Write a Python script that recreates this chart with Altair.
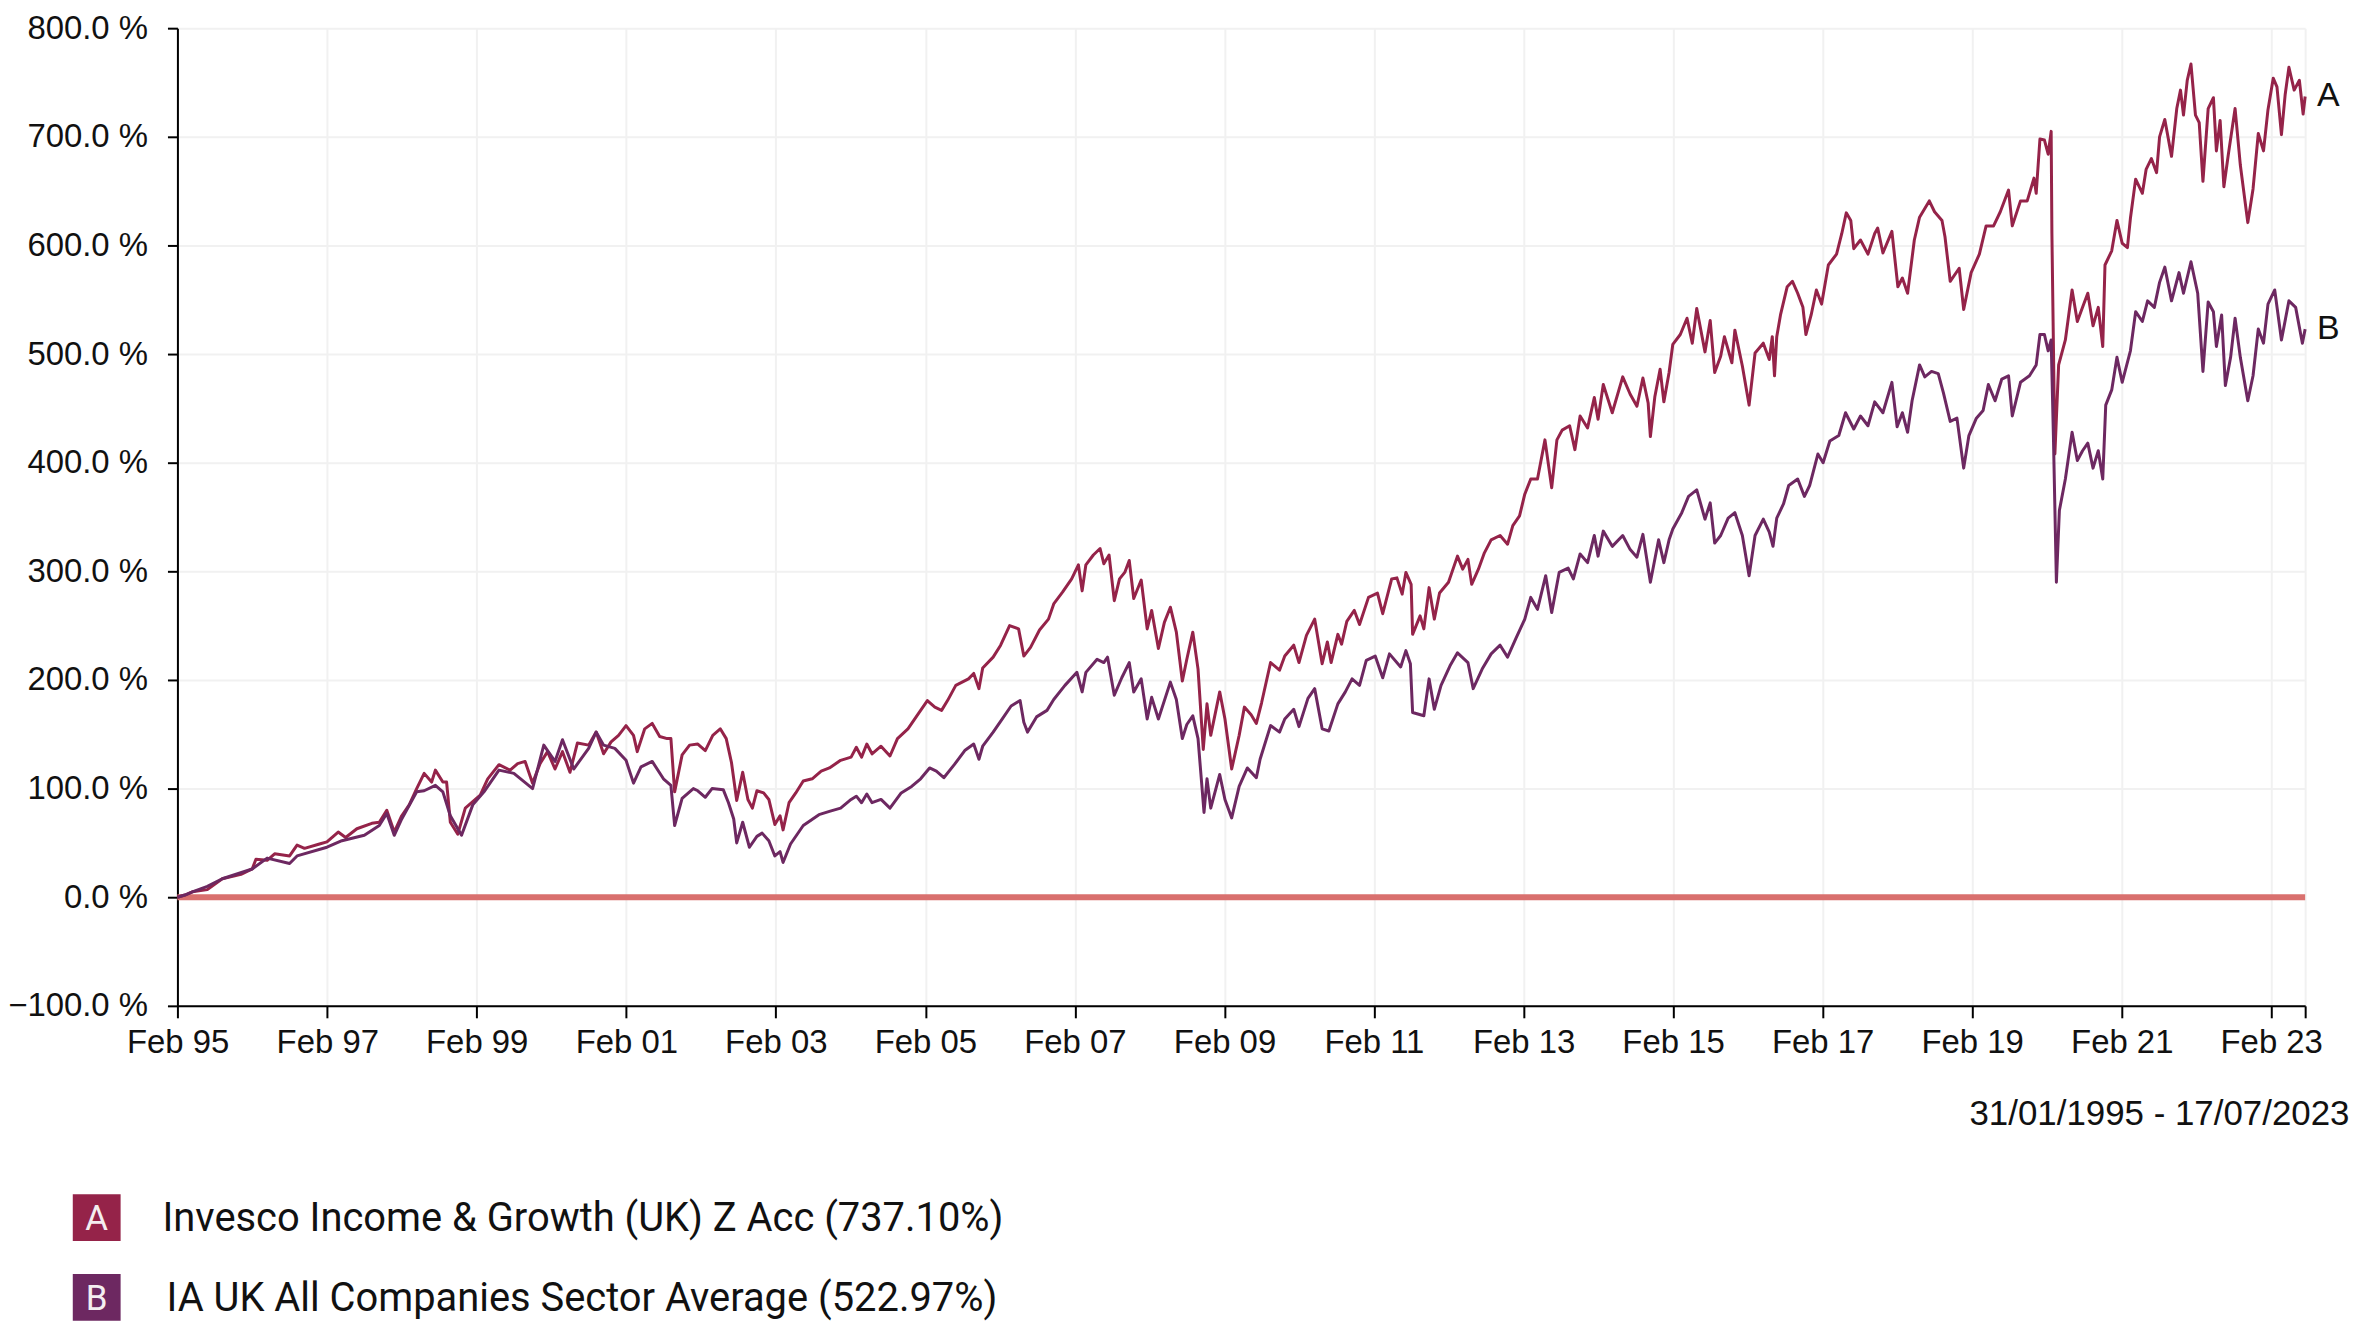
import altair as alt
import pandas as pd
import numpy as np

START = "1995-01-31"
END_T = 28.457  # years from 31/01/1995 to 17/07/2023

# Series A: Invesco Income & Growth (UK) Z Acc  (years since start, cumulative % return)
a_t = [0, 0.1, 0.2, 0.4, 0.6, 0.85, 1.0, 1.05, 1.2, 1.3, 1.5, 1.6, 1.7, 1.9, 2.0, 2.15, 2.25, 2.4, 2.6, 2.7,
       2.8, 2.9, 3.0, 3.1, 3.2, 3.3, 3.4, 3.45, 3.55, 3.6, 3.65, 3.75, 3.85, 3.95, 4.05, 4.15, 4.3, 4.45, 4.55, 4.65,
       4.75, 4.85, 4.95, 5.05, 5.15, 5.25, 5.35, 5.5, 5.6, 5.7, 5.8, 5.9, 6.0, 6.1, 6.15, 6.25, 6.35, 6.45, 6.55, 6.6,
       6.65, 6.75, 6.85, 6.96, 7.06, 7.16, 7.26, 7.34, 7.41, 7.48, 7.56, 7.63, 7.69, 7.75, 7.84, 7.91, 7.99, 8.06, 8.1, 8.18,
       8.27, 8.37, 8.49, 8.61, 8.72, 8.87, 9.01, 9.08, 9.15, 9.22, 9.29, 9.41, 9.53, 9.63, 9.77, 9.91, 10.03, 10.13, 10.22, 10.30,
       10.41, 10.58, 10.65, 10.72, 10.77, 10.91, 11.01, 11.13, 11.25, 11.32, 11.41, 11.53, 11.65, 11.72, 11.84, 11.96, 12.05, 12.1, 12.15, 12.25,
       12.34, 12.39, 12.46, 12.53, 12.6, 12.67, 12.73, 12.79, 12.89, 12.97, 13.03, 13.12, 13.2, 13.28, 13.36, 13.44, 13.5, 13.58, 13.65, 13.72,
       13.77, 13.82, 13.94, 14.01, 14.1, 14.2, 14.27, 14.36, 14.43, 14.5, 14.62, 14.74, 14.81, 14.93, 15.0, 15.1, 15.21, 15.31, 15.38, 15.43,
       15.52, 15.57, 15.64, 15.74, 15.81, 15.93, 16.05, 16.12, 16.24, 16.31, 16.38, 16.43, 16.5, 16.52, 16.62, 16.67, 16.74, 16.81, 16.88, 17.0,
       17.12, 17.19, 17.26, 17.31, 17.4, 17.48, 17.57, 17.69, 17.79, 17.86, 17.95, 18.02, 18.1, 18.19, 18.29, 18.38, 18.45, 18.52, 18.62, 18.69,
       18.76, 18.86, 18.95, 19.0, 19.07, 19.19, 19.33, 19.43, 19.52, 19.6, 19.67, 19.7, 19.76, 19.83, 19.88, 19.95, 20.0, 20.1, 20.19, 20.26,
       20.32, 20.43, 20.5, 20.56, 20.64, 20.69, 20.79, 20.83, 20.93, 21.02, 21.1, 21.21, 21.29, 21.33, 21.36, 21.39, 21.44, 21.53, 21.6, 21.67,
       21.74, 21.78, 21.85, 21.92, 21.99, 22.08, 22.19, 22.26, 22.32, 22.38, 22.42, 22.51, 22.61, 22.7, 22.74, 22.81, 22.93, 23.01, 23.07, 23.14,
       23.23, 23.3, 23.37, 23.43, 23.5, 23.6, 23.64, 23.71, 23.83, 23.89, 23.99, 24.1, 24.19, 24.29, 24.38, 24.49, 24.54, 24.65, 24.74, 24.83,
       24.86, 24.91, 24.97, 25.02, 25.06, 25.07, 25.11, 25.16, 25.25, 25.34, 25.41, 25.48, 25.55, 25.62, 25.69, 25.75, 25.78, 25.87, 25.94, 26.01,
       26.08, 26.12, 26.19, 26.28, 26.33, 26.4, 26.47, 26.51, 26.58, 26.67, 26.74, 26.79, 26.83, 26.88, 26.93, 26.99, 27.04, 27.09, 27.16, 27.23,
       27.27, 27.32, 27.37, 27.43, 27.52, 27.59, 27.69, 27.76, 27.83, 27.9, 27.96, 28.03, 28.08, 28.14, 28.19, 28.24, 28.31, 28.38, 28.43, END_T]
a_v = [0, 2, 5, 7, 17, 21, 26, 35, 34, 40, 38, 48, 45, 49, 51, 60, 55, 63, 68, 69,
       80, 60, 75, 85, 100, 114, 106, 117, 106, 106, 69, 58, 82, 88, 94, 109, 122, 117, 123, 125,
       105, 123, 134, 118, 134, 115, 142, 140, 152, 132, 143, 149, 158, 149, 134, 155, 160, 148, 146, 146,
       97, 131, 140, 141, 135, 149, 155, 146, 124, 89, 115, 90, 82, 98, 96, 90, 67, 75, 62, 87,
       96, 107, 109, 116, 119, 126, 129, 138, 129, 141, 132, 139, 130, 146, 155, 169, 181, 175, 172, 181,
       195, 201, 206, 192, 211, 221, 232, 250, 247, 222, 230, 246, 256, 270, 281, 293, 306, 282, 306, 315,
       321, 307, 315, 273, 293, 299, 310, 275, 292, 247, 264, 229, 253, 267, 244, 199, 219, 244, 210, 136,
       178, 149, 189, 164, 118, 149, 175, 168, 160, 179, 216, 209, 222, 232, 216, 241, 256, 215, 235, 216,
       242, 233, 254, 264, 251, 276, 280, 261, 293, 294, 279, 299, 288, 242, 259, 247, 285, 256, 280, 290,
       314, 302, 311, 288, 302, 317, 329, 333, 325, 342, 351, 371, 385, 385, 421, 377, 421, 430, 434, 412,
       443, 432, 460, 440, 472, 446, 479, 463, 452, 478, 455, 424, 461, 486, 456, 483, 509, 518, 533, 510,
       542, 502, 531, 483, 498, 516, 492, 522, 489, 453, 501, 510, 495, 516, 480, 516, 536, 562, 567, 556,
       543, 518, 536, 559, 546, 582, 592, 611, 630, 623, 597, 605, 592, 611, 616, 593, 613, 562, 570, 556,
       605, 626, 634, 641, 631, 623, 608, 567, 579, 541, 575, 592, 618, 618, 631, 651, 618, 641, 641, 662,
       648, 698, 697, 684, 705, 611, 408, 490, 513, 559, 530, 543, 556, 526, 543, 507, 582, 595, 623, 602,
       598, 625, 661, 648, 670, 680, 667, 700, 716, 682, 726, 743, 720, 752, 767, 720, 713, 659, 726, 736,
       687, 715, 654, 684, 726, 674, 621, 652, 703, 687, 725, 754, 746, 702, 739, 764, 743, 752, 721, 737.10]

# Series B: IA UK All Companies Sector Average
b_t = [0, 0.1, 0.2, 0.4, 0.6, 1.0, 1.2, 1.5, 1.6, 2.0, 2.2, 2.5, 2.7, 2.8, 2.9, 3.0, 3.2, 3.3, 3.45, 3.55,
       3.65, 3.8, 3.95, 4.1, 4.3, 4.5, 4.75, 4.9, 5.05, 5.15, 5.3, 5.5, 5.6, 5.7, 5.85, 6.0, 6.1, 6.2, 6.35, 6.5,
       6.6, 6.65, 6.75, 6.9, 6.96, 7.06, 7.15, 7.3, 7.37, 7.44, 7.48, 7.56, 7.65, 7.75, 7.82, 7.91, 7.99, 8.06, 8.1, 8.2,
       8.37, 8.58, 8.72, 8.87, 9.01, 9.08, 9.15, 9.22, 9.29, 9.41, 9.53, 9.68, 9.82, 9.94, 10.06, 10.15, 10.25, 10.39, 10.53, 10.65,
       10.72, 10.77, 10.91, 11.03, 11.15, 11.27, 11.32, 11.37, 11.49, 11.63, 11.72, 11.87, 12.03, 12.1, 12.15, 12.3, 12.39, 12.44, 12.53, 12.63,
       12.73, 12.79, 12.89, 12.97, 13.03, 13.12, 13.28, 13.36, 13.44, 13.5, 13.58, 13.65, 13.73, 13.77, 13.82, 13.94, 14.01, 14.1, 14.2, 14.31,
       14.43, 14.48, 14.62, 14.74, 14.81, 14.93, 15.0, 15.12, 15.21, 15.31, 15.4, 15.52, 15.62, 15.71, 15.81, 15.9, 16.02, 16.12, 16.21, 16.36,
       16.43, 16.49, 16.52, 16.67, 16.74, 16.81, 16.9, 17.02, 17.12, 17.26, 17.33, 17.45, 17.57, 17.69, 17.79, 17.9, 18.02, 18.1, 18.19, 18.3,
       18.38, 18.48, 18.6, 18.67, 18.76, 18.86, 18.95, 19.0, 19.07, 19.19, 19.33, 19.43, 19.52, 19.6, 19.7, 19.81, 19.88, 19.95, 20.0, 20.12,
       20.21, 20.32, 20.43, 20.5, 20.56, 20.64, 20.74, 20.83, 20.93, 21.02, 21.1, 21.21, 21.29, 21.34, 21.39, 21.48, 21.55, 21.67, 21.76, 21.83,
       21.94, 22.01, 22.1, 22.22, 22.31, 22.42, 22.51, 22.61, 22.7, 22.81, 22.93, 23.0, 23.07, 23.14, 23.2, 23.3, 23.37, 23.46, 23.55, 23.62,
       23.71, 23.8, 23.89, 23.96, 24.06, 24.15, 24.22, 24.31, 24.4, 24.49, 24.54, 24.65, 24.77, 24.86, 24.91, 24.97, 25.02, 25.06, 25.09, 25.13,
       25.17, 25.25, 25.34, 25.41, 25.48, 25.55, 25.62, 25.69, 25.75, 25.79, 25.87, 25.94, 26.01, 26.12, 26.19, 26.28, 26.35, 26.44, 26.51, 26.58,
       26.67, 26.77, 26.83, 26.93, 27.02, 27.09, 27.16, 27.23, 27.27, 27.34, 27.39, 27.46, 27.52, 27.59, 27.69, 27.76, 27.83, 27.9, 27.96, 28.05,
       28.14, 28.24, 28.33, 28.42, END_T]
b_v = [0, 2, 5, 10, 17, 26, 36, 31, 38, 46, 52, 57, 66, 77, 57, 72, 97, 98, 103, 97,
       75, 57, 85, 97, 117, 114, 100, 140, 125, 145, 118, 137, 152, 140, 137, 126, 105, 120, 125, 109,
       103, 66, 91, 100, 98, 92, 100, 99, 87, 72, 50, 69, 46, 56, 59, 52, 38, 42, 32, 49,
       66, 76, 79, 82, 90, 93, 87, 95, 87, 90, 82, 96, 102, 109, 119, 116, 110, 122, 135, 141,
       127, 139, 152, 164, 176, 181, 161, 152, 166, 172, 182, 195, 207, 189, 207, 219, 216, 221, 186, 202,
       216, 189, 201, 164, 184, 164, 198, 182, 146, 159, 167, 146, 78, 109, 82, 113, 90, 73, 102, 119,
       110, 127, 158, 152, 164, 173, 157, 183, 192, 155, 153, 178, 189, 201, 195, 218, 222, 202, 224, 212,
       227, 215, 170, 167, 201, 173, 195, 213, 225, 216, 192, 210, 224, 232, 221, 238, 256, 276, 265, 296,
       262, 299, 303, 293, 316, 308, 333, 314, 337, 323, 333, 320, 313, 334, 290, 329, 308, 329, 339, 354,
       369, 375, 348, 363, 326, 333, 349, 354, 333, 296, 333, 348, 336, 323, 349, 362, 379, 385, 369, 379,
       408, 400, 420, 425, 446, 431, 443, 434, 456, 446, 474, 433, 446, 428, 457, 490, 479, 484, 482, 464,
       438, 441, 395, 425, 441, 448, 472, 457, 477, 480, 443, 474, 480, 490, 518, 518, 503, 513, 425, 290,
       356, 385, 428, 402, 411, 418, 395, 411, 385, 453, 467, 497, 474, 503, 539, 530, 549, 543, 566, 580,
       549, 575, 556, 585, 556, 484, 548, 539, 507, 536, 471, 497, 533, 497, 457, 480, 523, 510, 546, 559,
       513, 549, 543, 510, 522.97]

series_keys = ["A", "B"]
legend_labels = ["Invesco Income & Growth (UK) Z Acc (737.10%)",
                 "IA UK All Companies Sector Average (522.97%)"]
series_colors = ["#952349", "#6d2861"]
zero_color = "#d9706e"
tick_years = list(range(1995, 2024, 2))
date_range_text = "31/01/1995 - 17/07/2023"
y_ticks = list(range(-100, 801, 100))

AXIS_FONT = "Liberation Sans"
LEGEND_FONT = "Roboto"


def to_dates(t):
    return pd.Timestamp(START) + pd.to_timedelta(np.array(t) * 365.25, unit="D")


df = pd.concat([
    pd.DataFrame({"date": to_dates(a_t), "value": a_v, "series": "A"}),
    pd.DataFrame({"date": to_dates(b_t), "value": b_v, "series": "B"}),
], ignore_index=True)

last = df.groupby("series").tail(1).copy()

x_domain = [alt.DateTime(year=1995, month=1, date=31), alt.DateTime(year=2023, month=7, date=17)]
x_scale = alt.Scale(domain=x_domain)
y_scale = alt.Scale(domain=[-100, 800], nice=False)
color_scale = alt.Scale(domain=series_keys, range=series_colors)

tick_vals = [alt.DateTime(year=y, month=2, date=1) for y in tick_years] + [alt.DateTime(year=2023, month=7, date=17)]

x_axis = alt.Axis(
    values=tick_vals,
    labelExpr="datum.value > 1685000000000 ? '' : timeFormat(datum.value, '%b %y')",
    labelFlush=False, labelOverlap=False, tickSize=12, labelPadding=9,
    title=date_range_text, titleX=2179, titleY=119, titleAlign="right",
    titleBaseline="alphabetic", titleFontSize=35, titleFontWeight="normal",
    titleFont=AXIS_FONT, titleColor="#111",
)
y_axis = alt.Axis(
    values=y_ticks,
    labelExpr="format(datum.value, '.1f') + ' %'",
    tickSize=10, labelPadding=20, title=None,
)

zero_df = pd.DataFrame({"date": to_dates([0, END_T]), "value": [0, 0]})
zero = alt.Chart(zero_df).mark_line(color=zero_color, strokeWidth=6).encode(
    x=alt.X("date:T", scale=x_scale, axis=x_axis),
    y=alt.Y("value:Q", scale=y_scale, axis=y_axis),
)

lines = alt.Chart(df).mark_line(strokeWidth=3, strokeJoin="round").encode(
    x=alt.X("date:T", scale=x_scale, axis=x_axis),
    y=alt.Y("value:Q", scale=y_scale, axis=y_axis),
    color=alt.Color("series:N", scale=color_scale, legend=None),
    detail="series:N",
)

end_labels = alt.Chart(last).mark_text(
    align="left", baseline="middle", dx=12, fontSize=34, font=AXIS_FONT, color="#111"
).encode(
    x=alt.X("date:T", scale=x_scale, axis=x_axis),
    y=alt.Y("value:Q", scale=y_scale, axis=y_axis),
    text="series:N",
)

legend_layers = []
for i, (key, lab, col) in enumerate(zip(series_keys, legend_labels, series_colors)):
    top = 1170 + i * 80
    one = pd.DataFrame({"series": [key], "label": [lab]})
    legend_layers.append(
        alt.Chart(one).mark_rect(color=col).encode(
            x=alt.value(-105), x2=alt.value(-57), y=alt.value(top), y2=alt.value(top + 47))
    )
    legend_layers.append(
        alt.Chart(one).mark_text(align="center", baseline="middle", fontSize=35, font=LEGEND_FONT,
                                 color="#f4eef0").encode(
            x=alt.value(-81), y=alt.value(top + 25), text="series:N")
    )
    legend_layers.append(
        alt.Chart(one).mark_text(align="left", baseline="middle", fontSize=40, font=LEGEND_FONT,
                                 color="#111").encode(
            x=alt.value(-15 + 4 * i), y=alt.value(top + 25), text="label:N")
    )

chart = alt.layer(zero, lines, end_labels, *legend_layers).properties(
    width=2135, height=981,
    autosize=alt.AutoSizeParams(type="none"),
    padding={"left": 170, "top": 18, "right": 49, "bottom": 318},
).configure_axis(
    domainColor="#000", domainWidth=2, tickColor="#000", tickWidth=2,
    gridColor="#f1f1f1", gridWidth=2, labelFont=AXIS_FONT, labelFontSize=33, labelColor="#111",
).configure_view(stroke=None)

chart.save("out.html", embed_options={"renderer": "svg", "actions": False})
